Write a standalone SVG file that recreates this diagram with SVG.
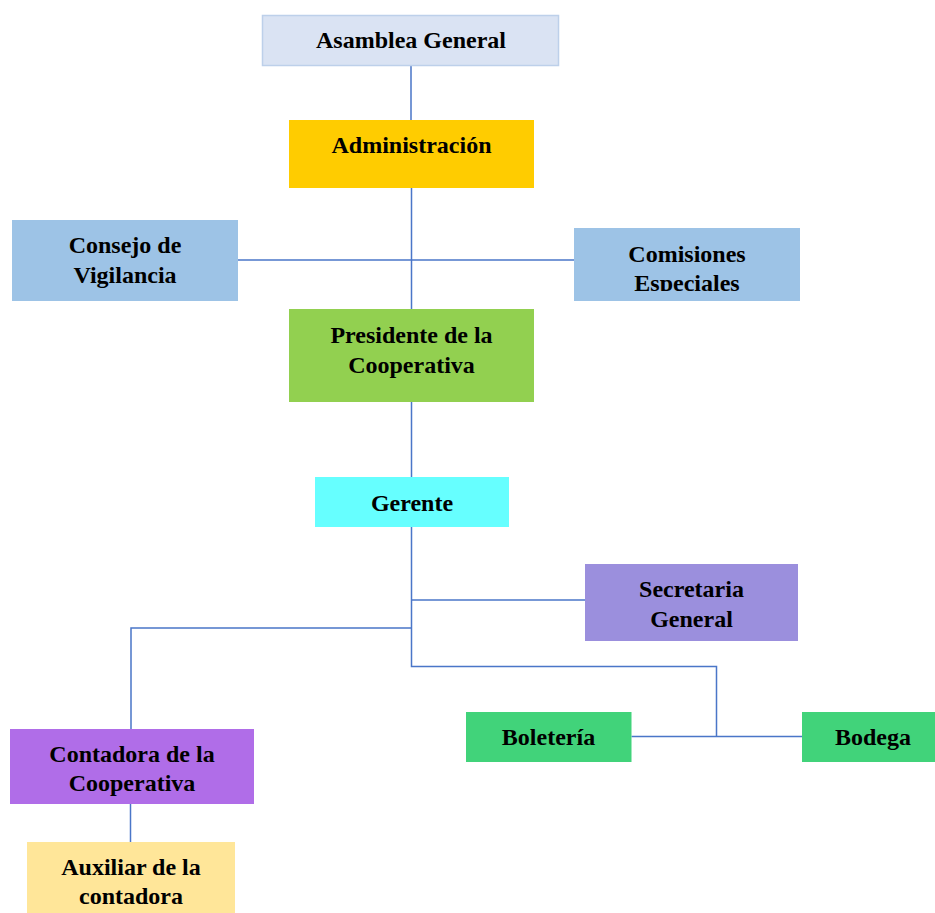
<svg xmlns="http://www.w3.org/2000/svg" width="935" height="913" viewBox="0 0 935 913">
<style>
text{font-family:"Liberation Serif","Times New Roman",serif;font-weight:bold;font-size:24px;fill:#000;text-anchor:middle}
.c{fill:none;stroke:#4a76c8;stroke-width:1.5}
</style>
<defs>
<clipPath id="clipCom"><rect x="574" y="228" width="226" height="63"/></clipPath>
</defs>
<rect width="935" height="913" fill="#fff"/>
<g id="connectors">
<path class="c" d="M411 65V120M411.5 188V309M411.5 402V477"/>
<path class="c" d="M238 260H574"/>
<path class="c" d="M411.5 527V666.5H716.5V736"/>
<path class="c" d="M411.5 600H585"/>
<path class="c" d="M411.5 628H131V729"/>
<path class="c" d="M631.5 736.5H802"/>
<path class="c" d="M130.5 804V842"/>
</g>
<g id="asamblea"><rect x="262.5" y="15.5" width="296" height="50" fill="#dae3f3" stroke="#bdd0ea" stroke-width="1.5"/><text x="411" y="48">Asamblea General</text></g>
<g id="administracion"><rect x="289" y="120" width="245" height="68" fill="#ffcc00"/><text x="411.5" y="153">Administración</text></g>
<g id="consejo"><rect x="12" y="220" width="226" height="81" fill="#9dc3e6"/><text x="125" y="253">Consejo de</text><text x="125" y="283">Vigilancia</text></g>
<g id="comisiones"><rect x="574" y="228" width="226" height="73" fill="#9dc3e6"/><g clip-path="url(#clipCom)"><text x="687" y="262">Comisiones</text><text x="687" y="291">Especiales</text></g></g>
<g id="presidente"><rect x="289" y="309" width="245" height="93" fill="#92d050"/><text x="411.5" y="343">Presidente de la</text><text x="411.5" y="373">Cooperativa</text></g>
<g id="gerente"><rect x="315" y="477" width="194" height="50" fill="#66ffff"/><text x="412" y="511">Gerente</text></g>
<g id="secretaria"><rect x="585" y="564" width="213" height="77" fill="#9b8fdd"/><text x="691.5" y="597">Secretaria</text><text x="691.5" y="627">General</text></g>
<g id="contadora"><rect x="10" y="729" width="244" height="75" fill="#b06de8"/><text x="132" y="762">Contadora de la</text><text x="132" y="791">Cooperativa</text></g>
<g id="auxiliar"><rect x="27" y="842" width="208" height="71" fill="#ffe699"/><text x="131" y="875">Auxiliar de la</text><text x="131" y="904">contadora</text></g>
<g id="boleteria"><rect x="466" y="712" width="165.5" height="50" fill="#41d37a"/><text x="548.5" y="745">Boletería</text></g>
<g id="bodega"><rect x="802" y="712" width="142" height="50" fill="#41d37a"/><text x="873" y="745">Bodega</text></g>
</svg>
